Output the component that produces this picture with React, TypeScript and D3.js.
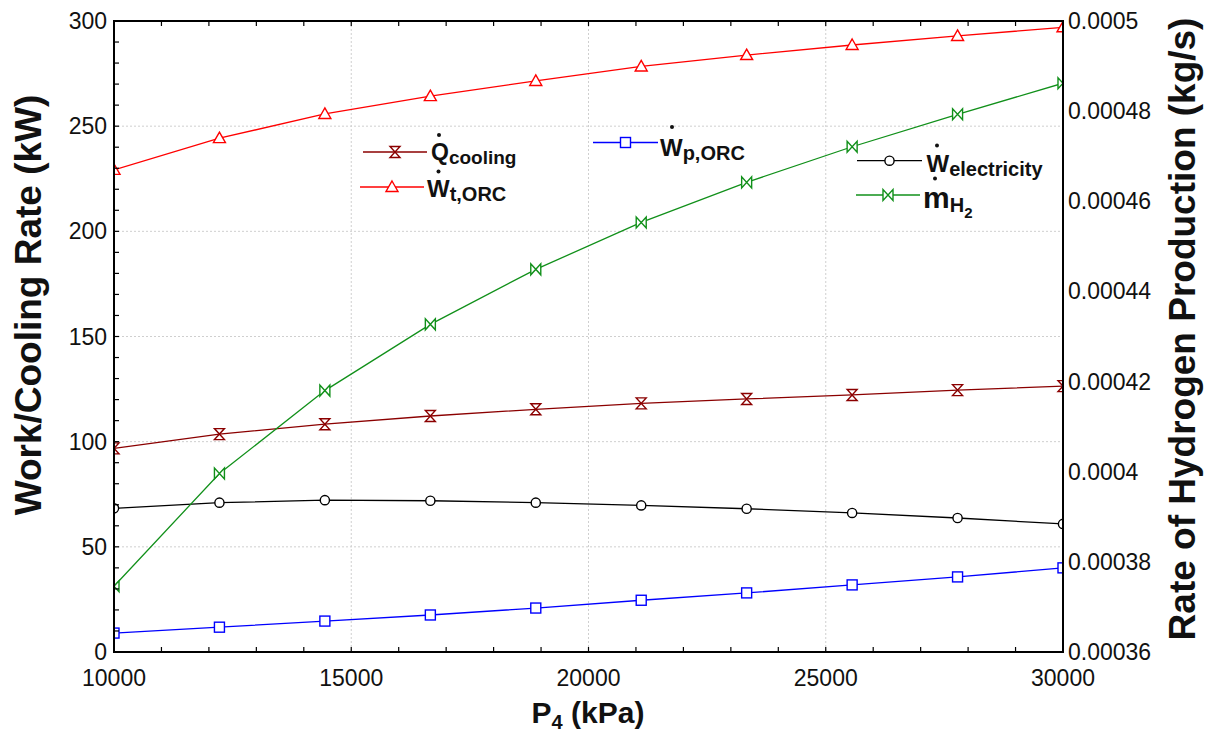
import React from "react";
import * as d3 from "d3";

// Operating pressure P4 (kPa) and the simulated outputs at each point
const pressure = [10000, 12222, 14444, 16667, 18889, 21111, 23333, 25556, 27778, 30000];
const qCooling = [96.8, 103.6, 108.3, 112.2, 115.4, 118.2, 120.3, 122.2, 124.5, 126.4];
const wTurbine = [229.2, 244.3, 255.8, 264.3, 271.5, 278.4, 283.8, 288.6, 292.9, 297.0];
const wPump = [9.0, 11.8, 14.7, 17.6, 20.9, 24.6, 28.1, 31.9, 35.7, 40.0];
const wElectricity = [68.3, 71.0, 72.2, 71.9, 71.0, 69.7, 68.1, 66.1, 63.7, 60.9];
const mH2 = [0.0003746, 0.0003996, 0.000418, 0.0004327, 0.0004449, 0.0004553, 0.0004642, 0.0004721, 0.0004793, 0.0004862];

const xTicks = [10000, 15000, 20000, 25000, 30000];
const yLeftTicks = [0, 50, 100, 150, 200, 250, 300];
const yRightTicks = [0.00036, 0.00038, 0.0004, 0.00042, 0.00044, 0.00046, 0.00048, 0.0005];
const yRightLabels = ["0.00036", "0.00038", "0.0004", "0.00042", "0.00044", "0.00046", "0.00048", "0.0005"];

const W = 1205;
const H = 732;
const plot = { left: 114, right: 1063, top: 21, bottom: 652 };
const FONT = "'Liberation Sans', Arial, Helvetica, sans-serif";

const x = d3.scaleLinear().domain([10000, 30000]).range([plot.left, plot.right]);
const yL = d3.scaleLinear().domain([0, 300]).range([plot.bottom, plot.top]);
const yR = d3.scaleLinear().domain([0.00036, 0.0005]).range([plot.bottom, plot.top]);

const COLORS = {
  q: "#8b0000",
  wt: "#ff0000",
  wp: "#0000ff",
  we: "#000000",
  m: "#11901a",
};

type MarkerKind = "hourglass" | "triangle" | "square" | "circle" | "bowtie";

function Marker({ kind, cx, cy, color }: { kind: MarkerKind; cx: number; cy: number; color: string }) {
  const common = { fill: "#fff", stroke: color, strokeWidth: 1.4 };
  if (kind === "circle") return <circle cx={cx} cy={cy} r={4.6} {...common} />;
  if (kind === "square") return <rect x={cx - 5} y={cy - 5} width={10} height={10} {...common} />;
  let d = "";
  if (kind === "hourglass") d = "M-5,-5.5L5,-5.5L-5,5.5L5,5.5Z";
  if (kind === "bowtie") d = "M-5,-5.5L-5,5.5L5,-5.5L5,5.5Z";
  if (kind === "triangle") d = "M0,-6L6,4.5L-6,4.5Z";
  return <path d={d} transform={`translate(${cx},${cy})`} {...common} />;
}

function Series({ values, yScale, color, kind }: { values: number[]; yScale: d3.ScaleLinear<number, number>; color: string; kind: MarkerKind }) {
  const pts = values.map((v, i) => [x(pressure[i]), yScale(v)] as [number, number]);
  const line = d3.line()(pts) || "";
  return (
    <g>
      <path d={line} fill="none" stroke={color} strokeWidth={1.3} />
      {pts.map((p, i) => (
        <Marker key={i} kind={kind} cx={p[0]} cy={p[1]} color={color} />
      ))}
    </g>
  );
}

function LegendLine({ x1, x2, y, color, kind }: { x1: number; x2: number; y: number; color: string; kind: MarkerKind }) {
  return (
    <g>
      <line x1={x1} x2={x2} y1={y} y2={y} stroke={color} strokeWidth={1.3} />
      <Marker kind={kind} cx={(x1 + x2) / 2} cy={y} color={color} />
    </g>
  );
}

export default function App() {
  const minorX = d3.range(11000, 30000, 1000);
  const minorY = d3.range(10, 300, 10);
  const gridX = xTicks.slice(1, -1);
  const gridY = yLeftTicks.slice(1, -1);

  return (
    <svg width={W} height={H} style={{ position: "absolute", left: 0, top: 0, background: "#fff" }} fontFamily={FONT}>
      <defs>
        <clipPath id="plotClip">
          <rect x={plot.left} y={plot.top} width={plot.right - plot.left} height={plot.bottom - plot.top} />
        </clipPath>
      </defs>

      {/* grid */}
      <g stroke="#cfcfcf" strokeWidth={1} strokeDasharray="2,2">
        {gridX.map((t) => (
          <line key={t} x1={x(t)} x2={x(t)} y1={plot.top} y2={plot.bottom} />
        ))}
        {gridY.map((t) => (
          <line key={t} x1={plot.left} x2={plot.right} y1={yL(t)} y2={yL(t)} />
        ))}
      </g>

      {/* data */}
      <g clipPath="url(#plotClip)">
        <Series values={wTurbine} yScale={yL} color={COLORS.wt} kind="triangle" />
        <Series values={qCooling} yScale={yL} color={COLORS.q} kind="hourglass" />
        <Series values={wElectricity} yScale={yL} color={COLORS.we} kind="circle" />
        <Series values={wPump} yScale={yL} color={COLORS.wp} kind="square" />
        <Series values={mH2} yScale={yR} color={COLORS.m} kind="bowtie" />
      </g>

      {/* ticks pointing inward */}
      <g stroke="#000" strokeWidth={1.2}>
        {minorX.map((t) => (
          <g key={t}>
            <line x1={x(t)} x2={x(t)} y1={plot.bottom} y2={plot.bottom - 5} />
            <line x1={x(t)} x2={x(t)} y1={plot.top} y2={plot.top + 5} />
          </g>
        ))}
        {minorY.map((t) => (
          <line key={t} x1={plot.left} x2={plot.left + 5} y1={yL(t)} y2={yL(t)} />
        ))}
      </g>

      {/* frame */}
      <rect x={plot.left} y={plot.top} width={plot.right - plot.left} height={plot.bottom - plot.top} fill="none" stroke="#000" strokeWidth={2} />

      {/* tick labels */}
      <g fontSize={23} fill="#111">
        {yLeftTicks.map((t) => (
          <text key={t} x={plot.left - 7} y={yL(t)} textAnchor="end" dominantBaseline="central">
            {t}
          </text>
        ))}
        {xTicks.map((t) => (
          <text key={t} x={x(t)} y={686} textAnchor="middle">
            {t}
          </text>
        ))}
        {yRightTicks.map((t, i) => (
          <text key={t} x={plot.right + 5} y={yR(t)} textAnchor="start" dominantBaseline="central">
            {yRightLabels[i]}
          </text>
        ))}
      </g>

      {/* axis titles */}
      <text transform="translate(41,305) rotate(-90)" textAnchor="middle" fontSize={37} fontWeight="bold" fill="#111">
        Work/Cooling Rate (kW)
      </text>
      <text transform="translate(1195,329) rotate(-90)" textAnchor="middle" fontSize={37} fontWeight="bold" fill="#111">
        Rate of Hydrogen Production (kg/s)
      </text>
      <text x={588} y={723} textAnchor="middle" fontSize={30} fontWeight="bold" fill="#111">
        P<tspan fontSize={20} dy={6}>4</tspan>
        <tspan dy={-6}> (kPa)</tspan>
      </text>

      {/* legend */}
      <g fontWeight="bold" fill="#111">
        <LegendLine x1={363} x2={427} y={152} color={COLORS.q} kind="hourglass" />
        <text x={431} y={159.5} fontSize={23}>
          Q<tspan fontSize={19} dy={4}>cooling</tspan>
        </text>
        <circle cx={439} cy={135} r={2} />

        <LegendLine x1={360} x2={424} y={187} color={COLORS.wt} kind="triangle" />
        <text x={427} y={196.7} fontSize={24}>
          W<tspan fontSize={20} dy={4}>t,ORC</tspan>
        </text>
        <circle cx={438.5} cy={171.5} r={2} />

        <LegendLine x1={593} x2={658} y={142.5} color={COLORS.wp} kind="square" />
        <text x={660} y={155.5} fontSize={24}>
          W<tspan fontSize={20} dy={4}>p,ORC</tspan>
        </text>
        <circle cx={672} cy={127} r={2} />

        <LegendLine x1={857} x2={922} y={160.7} color={COLORS.we} kind="circle" />
        <text x={926.5} y={171.7} fontSize={24}>
          W<tspan fontSize={20} dy={4}>electricity</tspan>
        </text>
        <circle cx={937} cy={145.5} r={2} />

        <LegendLine x1={856} x2={920} y={195} color={COLORS.m} kind="bowtie" />
        <text x={923} y={207.7} fontSize={30}>
          m<tspan fontSize={20} dy={4}>H</tspan>
          <tspan fontSize={15} dy={6}>2</tspan>
        </text>
        <circle cx={935} cy={178.5} r={2} />
      </g>
    </svg>
  );
}
